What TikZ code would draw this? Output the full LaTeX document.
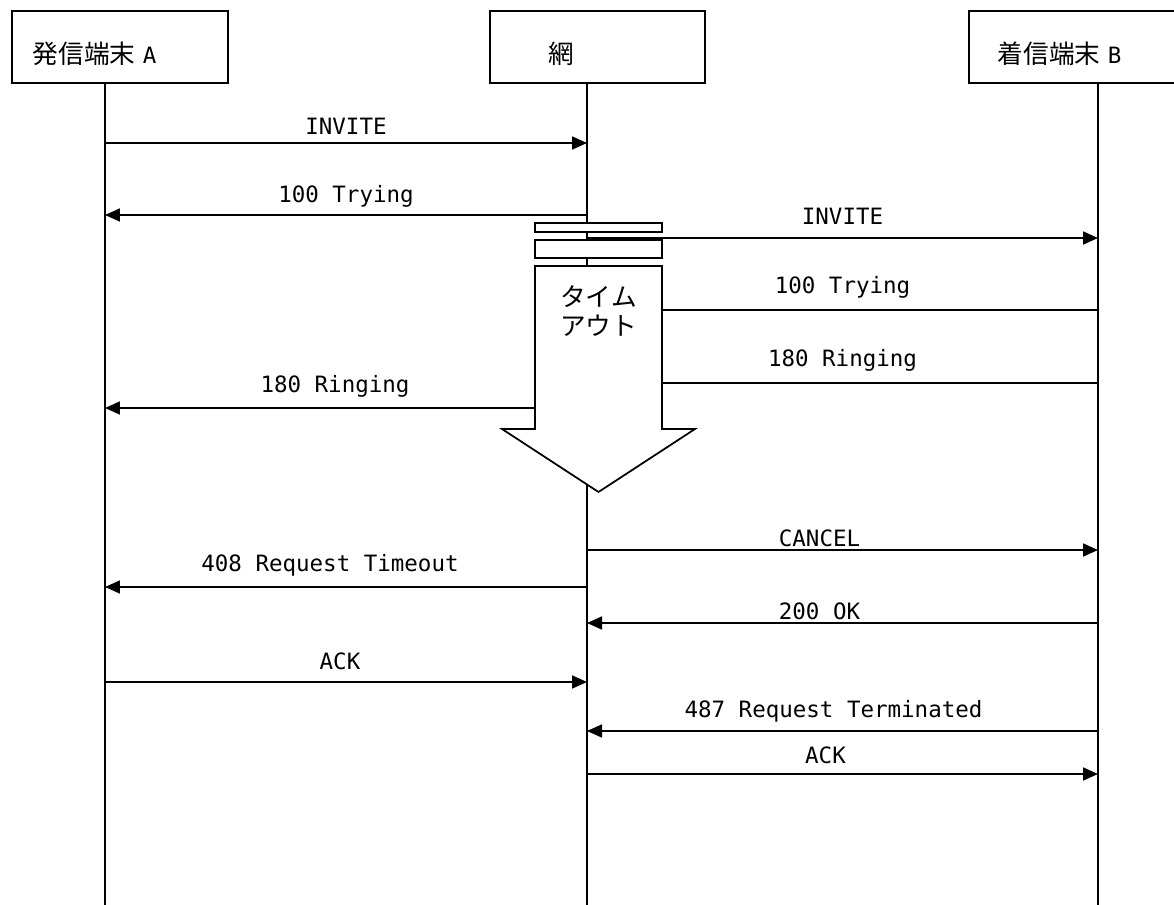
\documentclass[tikz,border=0pt]{standalone}
\usepackage{fontspec}
\setmainfont{DejaVu Sans Mono}
\newfontfamily\jp{Noto Sans CJK JP}
\newcommand\jpf{\jp\fontsize{14.6}{17}\selectfont}
\usetikzlibrary{arrows.meta}
\tikzstyle{entity} = [draw, line width=1pt, anchor=north west, minimum height=1.44cm, inner ysep=0pt, text height=1.06cm, text depth=0.38cm, align=left, font=\fontsize{12.8}{15}\selectfont]
\tikzstyle{life} = [line width=1pt]
\tikzstyle{arrow} = [-{Triangle[length=0.3cm, width=0.26cm]}, line width=1pt]
\tikzstyle{msg} = [anchor=base, inner sep=0pt, font=\fontsize{12.8}{15}\selectfont]
\tikzstyle{timer} = [draw, line width=1pt, fill=white]

\begin{document}
\begin{tikzpicture}[x=0.02cm, y=-0.02cm]
				\useasboundingbox (0,0) rectangle (1174,905);
				\clip (0,0) rectangle (1174,905);
				\node (a)[entity, inner xsep=0.42cm, text width=3.48cm] at (11,10) {{\jpf 発信端末} A};
				\node (net)[entity, inner xsep=1.18cm, text width=1.94cm] at (489,10) {{\jpf 網}};
				\node (b)[entity, inner xsep=0.58cm, text width=3.1cm] at (968,10) {{\jpf 着信端末} B};
				
				\coordinate (la) at (105,905);
				\coordinate (ln) at (587,905);
				\coordinate (lb) at (1098,905);
				\draw [life] (la |- a.south) -- (la);
				\draw [life] (ln |- net.south) -- (ln);
				\draw [life] (lb |- b.south) -- (lb);
				
				\draw [arrow] (la |- 0,143) -- node[msg, yshift=0.16cm]{INVITE} (ln |- 0,143);
				\draw [arrow] (ln |- 0,215) -- node[msg, yshift=0.26cm]{100 Trying} (la |- 0,215);
				\draw [arrow] (ln |- 0,238) -- node[msg, yshift=0.28cm]{INVITE} (lb |- 0,238);
				\draw [arrow] (lb |- 0,310) -- node[msg, yshift=0.34cm]{100 Trying} (ln |- 0,310);
				\draw [arrow] (lb |- 0,383) -- node[msg, yshift=0.34cm]{180 Ringing} (ln |- 0,383);
				\draw [arrow] (ln |- 0,408) -- node[msg, yshift=0.32cm, xshift=-0.22cm]{180 Ringing} (la |- 0,408);
				\draw [arrow] (ln |- 0,550) -- node[msg, yshift=0.06cm, xshift=-0.46cm]{CANCEL} (lb |- 0,550);
				\draw [arrow] (ln |- 0,587) -- node[msg, yshift=0.32cm, xshift=-0.32cm]{408 Request Timeout} (la |- 0,587);
				\draw [arrow] (lb |- 0,623) -- node[msg, yshift=0.08cm, xshift=-0.46cm]{200 OK} (ln |- 0,623);
				\draw [arrow] (la |- 0,682) -- node[msg, yshift=0.26cm, xshift=-0.12cm]{ACK} (ln |- 0,682);
				\draw [arrow] (lb |- 0,731) -- node[msg, yshift=0.28cm, xshift=-0.18cm]{487 Request Terminated} (ln |- 0,731);
				\draw [arrow] (ln |- 0,774) -- node[msg, yshift=0.22cm, xshift=-0.34cm]{ACK} (lb |- 0,774);
				
				% timer on the network side
				\draw [timer] (535,223) rectangle (662,232);
				\draw [timer] (535,240) rectangle (662,258);
				\draw [timer] (535,266) -- (662,266) -- (662,429) -- (695,429) -- (598.5,492) -- (502,429) -- (535,429) -- cycle;
				\node (timeout)[align=center, font=\jpf, inner sep=0pt] at (598.5,311) {タイム\\アウト};
			\end{tikzpicture}
\end{document}
